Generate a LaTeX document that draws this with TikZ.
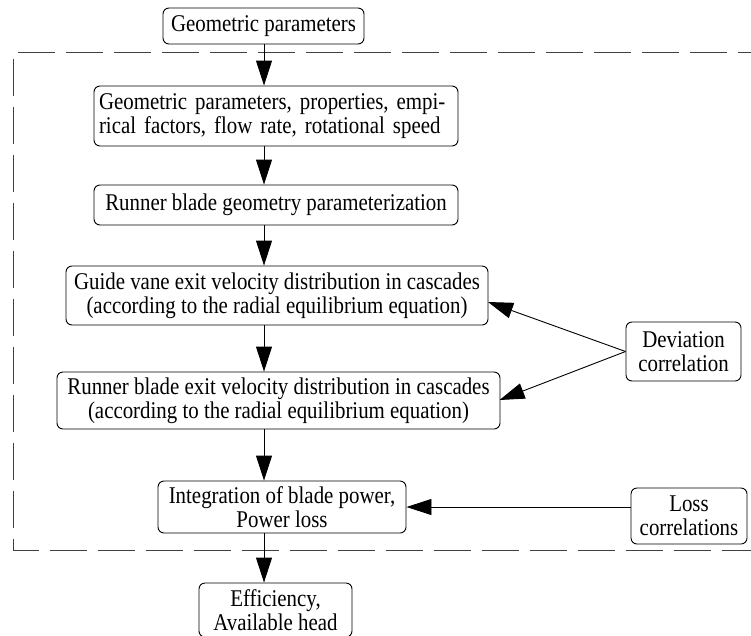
\documentclass[tikz,border=0pt]{standalone}
\usepackage{fontspec}
\setmainfont[FakeStretch=0.87]{Liberation Serif}
\usetikzlibrary{arrows.meta}
\tikzset{
  box/.style={draw=black, line width=0.9pt, rounded corners=6pt, inner sep=0pt, align=center,
    font=\fontsize{24}{24}\selectfont},
  arr/.style={line width=0.9pt, -{Triangle[length=25pt,width=16pt]}},
  frame/.style={line width=0.9pt, draw=black!75, dash pattern=on 37pt off 11pt}
}
\begin{document}
\begin{tikzpicture}[x=1pt,y=-1pt]
\useasboundingbox (0,0) rectangle (751,635);
\fill[white] (0,0) rectangle (751,635);
% dashed frame
\draw[frame] (775,52.5) -- (13,52.5) -- (13,550) -- (775,550);
% nodes
\node[box, minimum width=201pt, minimum height=36pt] (b1) at (263.5,26) {Geometric parameters};
\node[box, minimum width=364pt, minimum height=60pt, text width=354pt, inner xsep=5pt, align=left] (b2) at (276,116)
  {Geometric parameters, properties, empi-\\rical factors, flow rate, rotational speed};
\node[box, minimum width=364pt, minimum height=40pt] (b3) at (276,205) {Runner blade geometry parameterization};
\node[box, minimum width=422pt, minimum height=59pt] (b4) at (277,295.5)
  {Guide vane exit velocity distribution in cascades\\(according to the radial equilibrium equation)};
\node[box, minimum width=443pt, minimum height=57pt] (b5) at (278.5,400.5)
  {Runner blade exit velocity distribution in cascades\\(according to the radial equilibrium equation)};
\node[box, minimum width=248pt, minimum height=52pt] (b6) at (282,507)
  {Integration of blade power,\\Power loss};
\node[box, minimum width=153pt, minimum height=54pt] (b7) at (275.5,610)
  {Efficiency,\\Available head};
\node[box, minimum width=115pt, minimum height=59pt] (dev) at (683.5,351.5)
  {Deviation\\correlation};
\node[box, minimum width=116pt, minimum height=56pt] (loss) at (689,516)
  {Loss\\correlations};
% connectors
\coordinate (ax) at (264,0);
\draw[arr] (b1.south -| ax) -- (b2.north -| ax);
\draw[arr] (b2.south -| ax) -- (b3.north -| ax);
\draw[arr] (b3.south -| ax) -- (b4.north -| ax);
\draw[arr] (b4.south -| ax) -- (b5.north -| ax);
\draw[arr] (b5.south -| ax) -- (b6.north -| ax);
\draw[arr] (b6.south -| ax) -- (b7.north -| ax);
\coordinate (d4) at (488,302);
\coordinate (d5) at (499.5,400);
\draw[arr] (dev.west) -- (d4);
\draw[arr] (dev.west) -- (d5);
\draw[arr] (loss.west |- b6.east) -- (b6.east);
\end{tikzpicture}
\end{document}
